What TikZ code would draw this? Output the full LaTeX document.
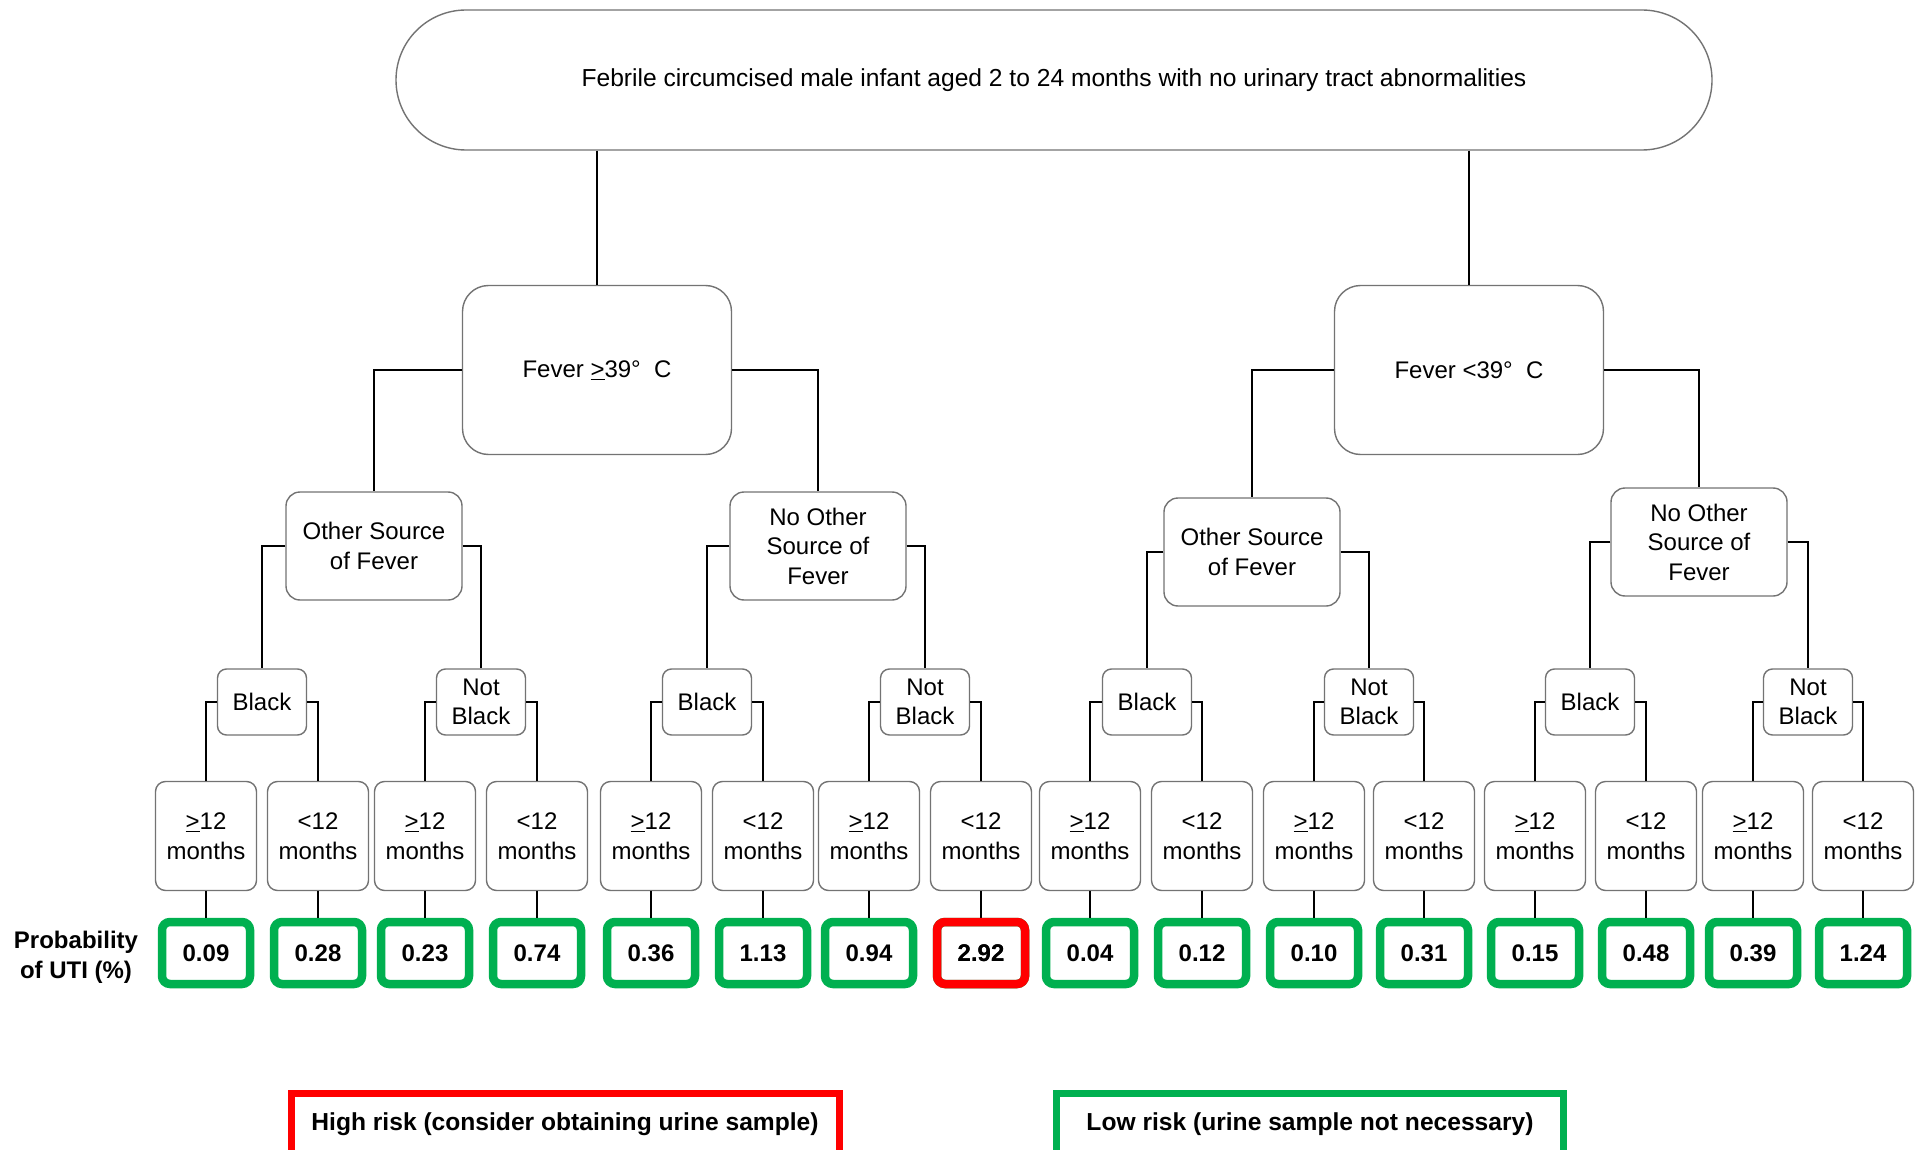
\documentclass[tikz,border=0pt]{standalone}
\usepackage{fontspec}
\setmainfont{Liberation Sans}
\definecolor{bgray}{RGB}{115,115,115}
\definecolor{pgreen}{RGB}{0,176,80}
\definecolor{pred}{RGB}{255,0,0}
\begin{document}
\begin{tikzpicture}[x=1pt,y=-1pt,
  nbox/.style={draw=bgray, line width=1.4pt, align=center, inner sep=0pt, fill=white,
    font=\fontsize{24}{29.5}\selectfont},
  leafbox/.style={nbox, minimum width=101pt, minimum height=109pt, rounded corners=10pt},
  racebox/.style={nbox, minimum width=89pt, minimum height=66pt, rounded corners=9pt},
  srcbox/.style={nbox, minimum width=176pt, minimum height=108pt, rounded corners=14pt},
  fevbox/.style={nbox, minimum width=269pt, minimum height=169pt, rounded corners=26pt},
  topbox/.style={nbox, minimum width=1316pt, minimum height=140pt, rounded corners=70pt,
    font=\fontsize{24.6}{29}\selectfont},
  probbox/.style={draw=pgreen, line width=8.5pt, rounded corners=8pt, inner sep=0pt,
    minimum width=88pt, minimum height=62pt, font=\bfseries\fontsize{24}{29}\selectfont},
  legbox/.style={line width=7pt, inner sep=0pt, minimum height=63pt,
    font=\bfseries\fontsize{24.6}{29}\selectfont},
  conn/.style={line width=2pt, black}]
\useasboundingbox (0,0) rectangle (1927,1150);

% top
\node[topbox] (top) at (1054,80) {Febrile circumcised male infant aged 2 to 24 months with no urinary tract abnormalities};

% fever
\node[fevbox] (f1) at (597,370) {Fever \underline{>}39°\ \ C};
\node[fevbox] (f2) at (1469,370) {Fever <39°\ \ C};

% sources
\node[srcbox] (s1) at (374,546) {Other Source\\of Fever};
\node[srcbox] (s2) at (818,546) {No Other\\Source of\\Fever};
\node[srcbox] (s3) at (1252,552) {Other Source\\of Fever};
\node[srcbox] (s4) at (1699,542) {No Other\\Source of\\Fever};

% race
\node[racebox] (r1) at (262,702) {Black};
\node[racebox] (r2) at (481,702) {Not\\Black};
\node[racebox] (r3) at (707,702) {Black};
\node[racebox] (r4) at (925,702) {Not\\Black};
\node[racebox] (r5) at (1147,702) {Black};
\node[racebox] (r6) at (1369,702) {Not\\Black};
\node[racebox] (r7) at (1590,702) {Black};
\node[racebox] (r8) at (1808,702) {Not\\Black};

% leaves and probabilities
\foreach \i/\x/\lab/\p in {
  1/206/{\underline{>}12}/0.09, 2/318/{<12}/0.28,
  3/425/{\underline{>}12}/0.23, 4/537/{<12}/0.74,
  5/651/{\underline{>}12}/0.36, 6/763/{<12}/1.13,
  7/869/{\underline{>}12}/0.94, 8/981/{<12}/2.92,
  9/1090/{\underline{>}12}/0.04, 10/1202/{<12}/0.12,
  11/1314/{\underline{>}12}/0.10, 12/1424/{<12}/0.31,
  13/1535/{\underline{>}12}/0.15, 14/1646/{<12}/0.48,
  15/1753/{\underline{>}12}/0.39, 16/1863/{<12}/1.24}{
  \node[leafbox] (l\i) at (\x,836) {\lab\\months};
  \node[probbox] (p\i) at (\x,953) {\p};
  \draw[conn] (l\i.south) -- (p\i.north);
}
\node[probbox, draw=pred] at (p8) {2.92};

% label
\node[align=center, inner sep=0pt, font=\bfseries\fontsize{24}{30}\selectfont] (plab) at (76,957) {Probability\\of UTI (\%)};

% connectors
\draw[conn] (top.south -| f1.north) -- (f1.north);
\draw[conn] (top.south -| f2.north) -- (f2.north);
\draw[conn] (f1.west) -| (s1.north);
\draw[conn] (f1.east) -| (s2.north);
\draw[conn] (f2.west) -| (s3.north);
\draw[conn] (f2.east) -| (s4.north);
\draw[conn] (s1.west) -| (r1.north);
\draw[conn] (s1.east) -| (r2.north);
\draw[conn] (s2.west) -| (r3.north);
\draw[conn] (s2.east) -| (r4.north);
\draw[conn] (s3.west) -| (r5.north);
\draw[conn] (s3.east) -| (r6.north);
\draw[conn] (s4.west) -| (r7.north);
\draw[conn] (s4.east) -| (r8.north);
\foreach \r/\a/\b in {1/1/2,2/3/4,3/5/6,4/7/8,5/9/10,6/11/12,7/13/14,8/15/16}{
  \draw[conn] (r\r.west) -| (l\a.north);
  \draw[conn] (r\r.east) -| (l\b.north);
}

% legend
\node[legbox, draw=pred, minimum width=548pt] (hi) at (565,1125) {\raisebox{6pt}{High risk (consider obtaining urine sample)}};
\node[legbox, draw=pgreen, minimum width=507pt] (lo) at (1310,1125) {\raisebox{6pt}{Low risk (urine sample not necessary)}};
\end{tikzpicture}
\end{document}
